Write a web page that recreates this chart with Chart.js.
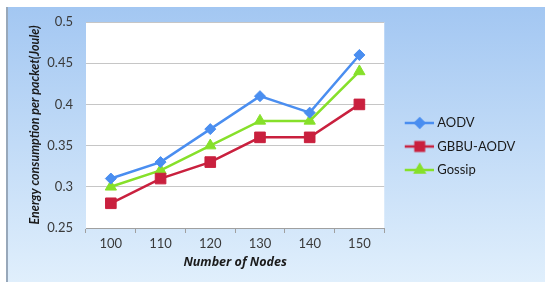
<!DOCTYPE html>
<html>
<head>
<meta charset="utf-8">
<script src="https://cdn.jsdelivr.net/npm/chart.js@4.4.0/dist/chart.umd.min.js"></script>
<style>
  html, body { margin: 0; padding: 0; background: #fff; }
  #frame {
    position: absolute; left: 6px; top: 7px; right: 0; bottom: 0;
    border-left: 2px solid #98a8ba;
    background: linear-gradient(#a3c7f2, #e0effc);
  }
  #wrap { position: absolute; left: 0; top: 0; width: 545px; height: 282px; }
</style>
</head>
<body>
<div id="frame"></div>
<div id="wrap"><canvas id="energyChart"></canvas></div>
<script>
// valeurs
const nodes = ['100', '110', '120', '130', '140', '150'];
const aodv = [0.31, 0.33, 0.37, 0.41, 0.39, 0.46];
const gbbuAodv = [0.28, 0.31, 0.33, 0.36, 0.36, 0.40];
const gossip = [0.30, 0.32, 0.35, 0.38, 0.38, 0.44];
const yMin = 0.25, yMax = 0.5, yStep = 0.05;

const FONT = 'Lato, "Open Sans", sans-serif';

// symbole de legende : trait + marqueur, comme Excel
function legendSymbol(color, style, radius) {
  const cv = document.createElement('canvas');
  cv.width = 42;
  cv.height = 16;
  const c = cv.getContext('2d');
  c.strokeStyle = color;
  c.lineWidth = 2.5;
  c.beginPath();
  c.moveTo(13, 8);
  c.lineTo(42, 8);
  c.stroke();
  c.fillStyle = color;
  Chart.helpers.drawPoint(c, { pointStyle: style, radius: radius, borderWidth: 1 }, 28, 8);
  return cv;
}

const series = [
  { label: 'AODV', data: aodv, color: '#4a8ef0', style: 'rectRot', r: 5.5 },
  { label: 'GBBU-AODV', data: gbbuAodv, color: '#c9203e', style: 'rect', r: 7.5 },
  { label: 'Gossip', data: gossip, color: '#86e02a', style: 'triangle', r: 6.5 }
];

const plotBg = {
  id: 'plotBg',
  beforeDraw(chart) {
    const { ctx, chartArea: a } = chart;
    ctx.save();
    ctx.fillStyle = '#ffffff';
    ctx.fillRect(a.left, a.top, a.width, a.height);
    ctx.restore();
  }
};

// un peu de marge a droite de la legende pour que le texte ne soit pas coupe
const legendRoom = {
  id: 'legendRoom',
  afterInit(chart) {
    const lg = chart.legend;
    const fit = lg.fit.bind(lg);
    lg.fit = () => { fit(); lg.width += 8; };
  }
};

new Chart(document.getElementById('energyChart'), {
  type: 'line',
  data: {
    labels: nodes,
    datasets: series.map(s => ({
      label: s.label,
      data: s.data,
      borderColor: s.color,
      backgroundColor: s.color,
      borderWidth: 2.5,
      tension: 0,
      fill: false,
      pointStyle: s.style,
      pointRadius: s.r,
      pointBorderWidth: 1,
      pointBackgroundColor: s.color,
      pointBorderColor: s.color
    }))
  },
  options: {
    responsive: true,
    maintainAspectRatio: false,
    animation: false,
    layout: { padding: { top: 22, left: 0, right: 22, bottom: 11 } },
    plugins: {
      legend: {
        position: 'right',
        labels: {
          usePointStyle: true,
          pointStyleWidth: 36,
          padding: 10.5,
          color: '#1a1a1a',
          font: { family: FONT, size: 13 },
          generateLabels: chart => series.map((s, i) => ({
            text: s.label,
            pointStyle: legendSymbol(s.color, s.style, s.r * 0.8),
            fillStyle: s.color,
            strokeStyle: s.color,
            lineWidth: 0,
            fontColor: '#1a1a1a',
            hidden: false,
            datasetIndex: i
          }))
        }
      },
      tooltip: { enabled: false }
    },
    scales: {
      x: {
        offset: true,
        grid: { offset: true, drawOnChartArea: false, drawTicks: true, tickLength: 5, color: '#a0a0a0' },
        border: { color: '#a0a0a0' },
        ticks: { color: '#3a3a3a', font: { family: FONT, size: 13 }, padding: 3 },
        title: {
          display: true,
          text: 'Number of Nodes',
          color: '#1a1a1a',
          font: { family: '"Open Sans", sans-serif', size: 12.5, weight: 'bold', style: 'italic' },
          padding: { top: 0, bottom: 1 }
        },
        afterFit: s => { s.height = 43; }
      },
      y: {
        min: yMin,
        max: yMax,
        grid: { color: '#c6c6c6', drawTicks: false },
        border: { display: false },
        ticks: {
          stepSize: yStep,
          color: '#3a3a3a',
          font: { family: FONT, size: 13 },
          padding: 13,
          callback: v => String(+v.toFixed(2))
        },
        title: {
          display: true,
          text: 'Energy consumption per packet(Joule)',
          color: '#1a1a1a',
          font: { family: FONT, size: 12.5, weight: 'bold', style: 'italic' },
          padding: { top: 27, bottom: 0 }
        },
        afterFit: s => { s.width = 86; }
      }
    }
  },
  plugins: [plotBg, legendRoom]
});
</script>
</body>
</html>
